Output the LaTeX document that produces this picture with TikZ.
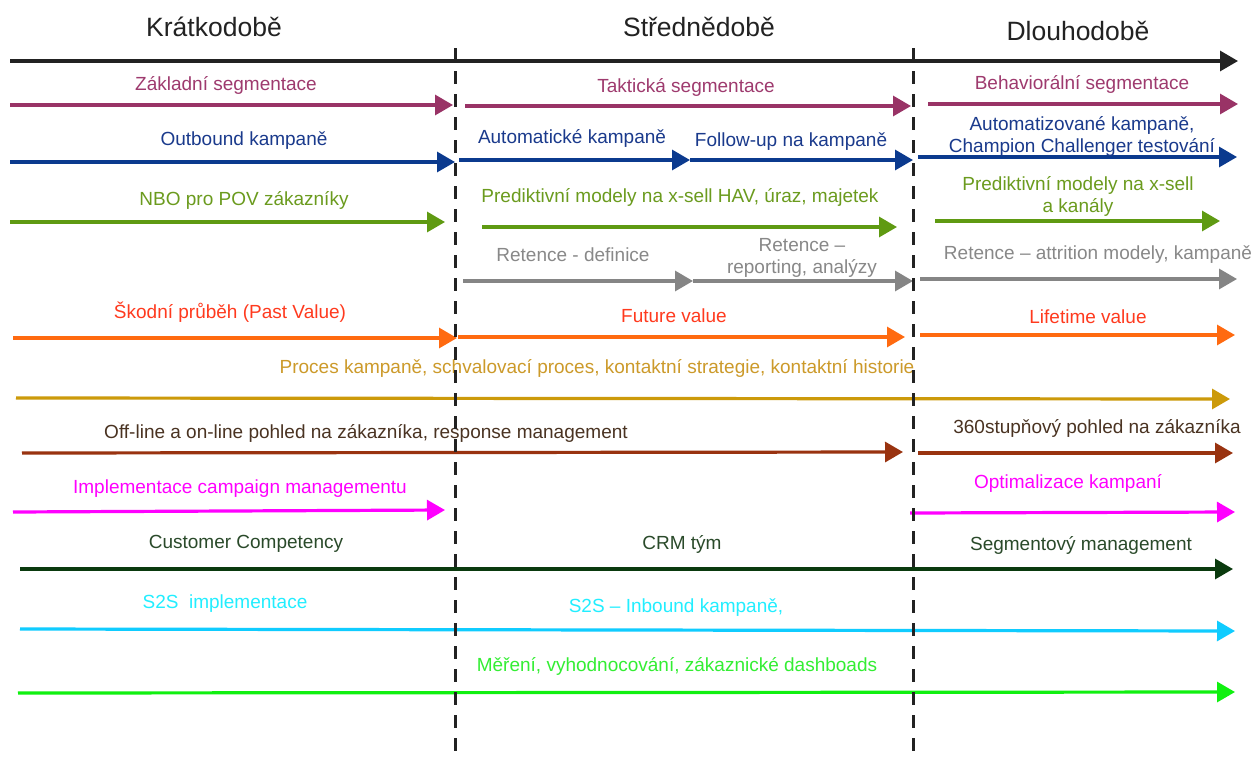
\documentclass[tikz,border=0pt]{standalone}
\usepackage{fontspec}
\setmainfont{Liberation Sans}
\usetikzlibrary{arrows.meta}

\definecolor{cPurple}{HTML}{993366}
\definecolor{tPurple}{HTML}{9E3A6E}
\definecolor{cBlue}{HTML}{0B3A8E}
\definecolor{tBlue}{HTML}{1A3A8C}
\definecolor{cOlive}{HTML}{5F9A12}
\definecolor{tOlive}{HTML}{6B9B1E}
\definecolor{cGray}{HTML}{858585}
\definecolor{tGray}{HTML}{888888}
\definecolor{cOrange}{HTML}{FF6A10}
\definecolor{tOrange}{HTML}{FF3A1E}
\definecolor{cGold}{HTML}{CC9A0A}
\definecolor{tGold}{HTML}{CC9A2A}
\definecolor{cBrown}{HTML}{993310}
\definecolor{tBrown}{HTML}{4A3322}
\definecolor{cMagenta}{HTML}{FF00FF}
\definecolor{cDkGreen}{HTML}{0A3A0E}
\definecolor{tDkGreen}{HTML}{2A4A2A}
\definecolor{cCyan}{HTML}{10CCFF}
\definecolor{tCyan}{HTML}{22EEFF}
\definecolor{cLime}{HTML}{10F010}
\definecolor{tLime}{HTML}{33EE33}
\definecolor{cAxis}{HTML}{222222}

\tikzset{
  lbl/.style={font=\fontsize{19}{22}\selectfont, anchor=base, inner sep=0pt, align=center},
  hdr/.style={font=\fontsize{26.5}{30}\selectfont, anchor=base, inner sep=0pt, text=cAxis},
  arr/.style={line width=3.2pt, -{Triangle[length=18pt,width=20pt]}},
  divider/.style={line width=3pt, draw=cAxis, dash pattern=on 13pt off 10pt},
}

\begin{document}
\begin{tikzpicture}[x=1pt,y=-1pt]
\useasboundingbox (0,0) rectangle (1256,758);
\fill[white] (0,0) rectangle (1256,758);

% period headers
\node[hdr] (hShort) at (214,36) {Krátkodobě};
\node[hdr] (hMid) at (699,36) {Střednědobě};
\node[hdr] (hLong) at (1078,40) {Dlouhodobě};

% time axis
\coordinate (axA) at (10,61);
\coordinate (axB) at (1238,61);
\draw[arr, cAxis] (axA) -- (axB);

% segmentation
\coordinate (s0) at (10,105); \coordinate (s1) at (453,105);
\coordinate (s2) at (465,106); \coordinate (s3) at (911,106);
\coordinate (s4) at (928,104); \coordinate (s5) at (1238,104);
\draw[arr, cPurple] (s0) -- (s1);
\draw[arr, cPurple] (s2) -- (s3);
\draw[arr, cPurple] (s4) -- (s5);
\node[lbl, text=tPurple] (lSeg1) at (226,90) {Základní segmentace};
\node[lbl, text=tPurple] (lSeg2) at (686,92) {Taktická segmentace};
\node[lbl, text=tPurple] (lSeg3) at (1082,89) {Behaviorální segmentace};

% campaigns
\coordinate (c0) at (10,162); \coordinate (c1) at (455,162);
\coordinate (c2) at (459,160); \coordinate (c3) at (690,160);
\coordinate (c4) at (913,160);
\coordinate (c5) at (918,157); \coordinate (c6) at (1237,157);
\draw[arr, cBlue] (c0) -- (c1);
\draw[arr, cBlue] (c2) -- (c3);
\draw[arr, cBlue] (c3) -- (c4);
\draw[arr, cBlue] (c5) -- (c6);
\node[lbl, text=tBlue] (lCmp1) at (244,145) {Outbound kampaně};
\node[lbl, text=tBlue] (lCmp2) at (572,143) {Automatické kampaně};
\node[lbl, text=tBlue] (lCmp3) at (791,146) {Follow-up na kampaně};
\node[lbl, text=tBlue] (lCmp4) at (1082,152) {Automatizované kampaně,\\Champion Challenger testování};

% predictive models
\coordinate (p0) at (10,222); \coordinate (p1) at (445,222);
\coordinate (p2) at (482,227); \coordinate (p3) at (897,227);
\coordinate (p4) at (935,221); \coordinate (p5) at (1220,221);
\draw[arr, cOlive] (p0) -- (p1);
\draw[arr, cOlive] (p2) -- (p3);
\draw[arr, cOlive] (p4) -- (p5);
\node[lbl, text=tOlive] (lPrd1) at (244,205) {NBO pro POV zákazníky};
\node[lbl, text=tOlive] (lPrd2) at (680,202) {Prediktivní modely na x-sell HAV, úraz, majetek};
\node[lbl, text=tOlive] (lPrd3) at (1078,212) {Prediktivní modely na x-sell\\a kanály};

% retention
\coordinate (r0) at (463,281); \coordinate (r1) at (693,281);
\coordinate (r2) at (913,281);
\coordinate (r3) at (920,279); \coordinate (r4) at (1237,279);
\draw[arr, cGray] (r0) -- (r1);
\draw[arr, cGray] (r1) -- (r2);
\draw[arr, cGray] (r3) -- (r4);
\node[lbl, text=tGray] (lRet1) at (573,261) {Retence - definice};
\node[lbl, text=tGray] (lRet2) at (802,273) {Retence –\\reporting, analýzy};
\node[lbl, text=tGray] (lRet3) at (1098,259) {Retence – attrition modely, kampaně};

% customer value
\coordinate (v0) at (13,338); \coordinate (v1) at (457,338);
\coordinate (v2) at (458,337); \coordinate (v3) at (905,337);
\coordinate (v4) at (920,335); \coordinate (v5) at (1235,335);
\draw[arr, cOrange] (v0) -- (v1);
\draw[arr, cOrange] (v2) -- (v3);
\draw[arr, cOrange] (v4) -- (v5);
\node[lbl, text=tOrange] (lVal1) at (230,318) {Škodní průběh (Past Value)};
\node[lbl, text=tOrange] (lVal2) at (674,322) {Future value};
\node[lbl, text=tOrange] (lVal3) at (1088,323) {Lifetime value};

% campaign process
\coordinate (g0) at (16,398); \coordinate (g1) at (1230,399);
\draw[arr, cGold] (g0) -- (g1);
\node[lbl, text=tGold] (lProc) at (597,373) {Proces kampaně, schvalovací proces, kontaktní strategie, kontaktní historie};

% customer view
\coordinate (b0) at (22,453); \coordinate (b1) at (903,452);
\coordinate (b2) at (918,453); \coordinate (b3) at (1233,453);
\draw[arr, cBrown] (b0) -- (b1);
\draw[arr, cBrown] (b2) -- (b3);
\node[lbl, text=tBrown] (lView1) at (366,438) {Off-line a on-line pohled na zákazníka, response management};
\node[lbl, text=tBrown] (lView2) at (1097,433) {360stupňový pohled na zákazníka};

% campaign management
\coordinate (m0) at (13,512); \coordinate (m1) at (445,510);
\coordinate (m2) at (910,513); \coordinate (m3) at (1235,512);
\draw[arr, cMagenta] (m0) -- (m1);
\draw[arr, cMagenta] (m2) -- (m3);
\node[lbl, text=cMagenta] (lMgmt1) at (240,493) {Implementace campaign managementu};
\node[lbl, text=cMagenta] (lMgmt2) at (1068,488) {Optimalizace kampaní};

% organisation
\coordinate (o0) at (20,569); \coordinate (o1) at (1233,569);
\draw[arr, cDkGreen] (o0) -- (o1);
\node[lbl, text=tDkGreen] (lOrg1) at (246,548) {Customer Competency};
\node[lbl, text=tDkGreen] (lOrg2) at (682,549) {CRM tým};
\node[lbl, text=tDkGreen] (lOrg3) at (1081,550) {Segmentový management};

% S2S
\coordinate (i0) at (20,629); \coordinate (i1) at (1235,631);
\draw[arr, cCyan] (i0) -- (i1);
\node[lbl, text=tCyan] (lS2S1) at (225,608) {S2S\ \ implementace};
\node[lbl, text=tCyan] (lS2S2) at (676,612) {S2S – Inbound kampaně,};

% measurement
\coordinate (e0) at (18,693); \coordinate (e1) at (1235,692);
\draw[arr, cLime] (e0) -- (e1);
\node[lbl, text=tLime] (lMeas) at (677,671) {Měření, vyhodnocování, zákaznické dashboads};

% period dividers
\coordinate (d1t) at (455,48); \coordinate (d1b) at (455,758);
\coordinate (d2t) at (913,48); \coordinate (d2b) at (913,758);
\draw[divider] (d1t) -- (d1b);
\draw[divider] (d2t) -- (d2b);
\end{tikzpicture}
\end{document}
